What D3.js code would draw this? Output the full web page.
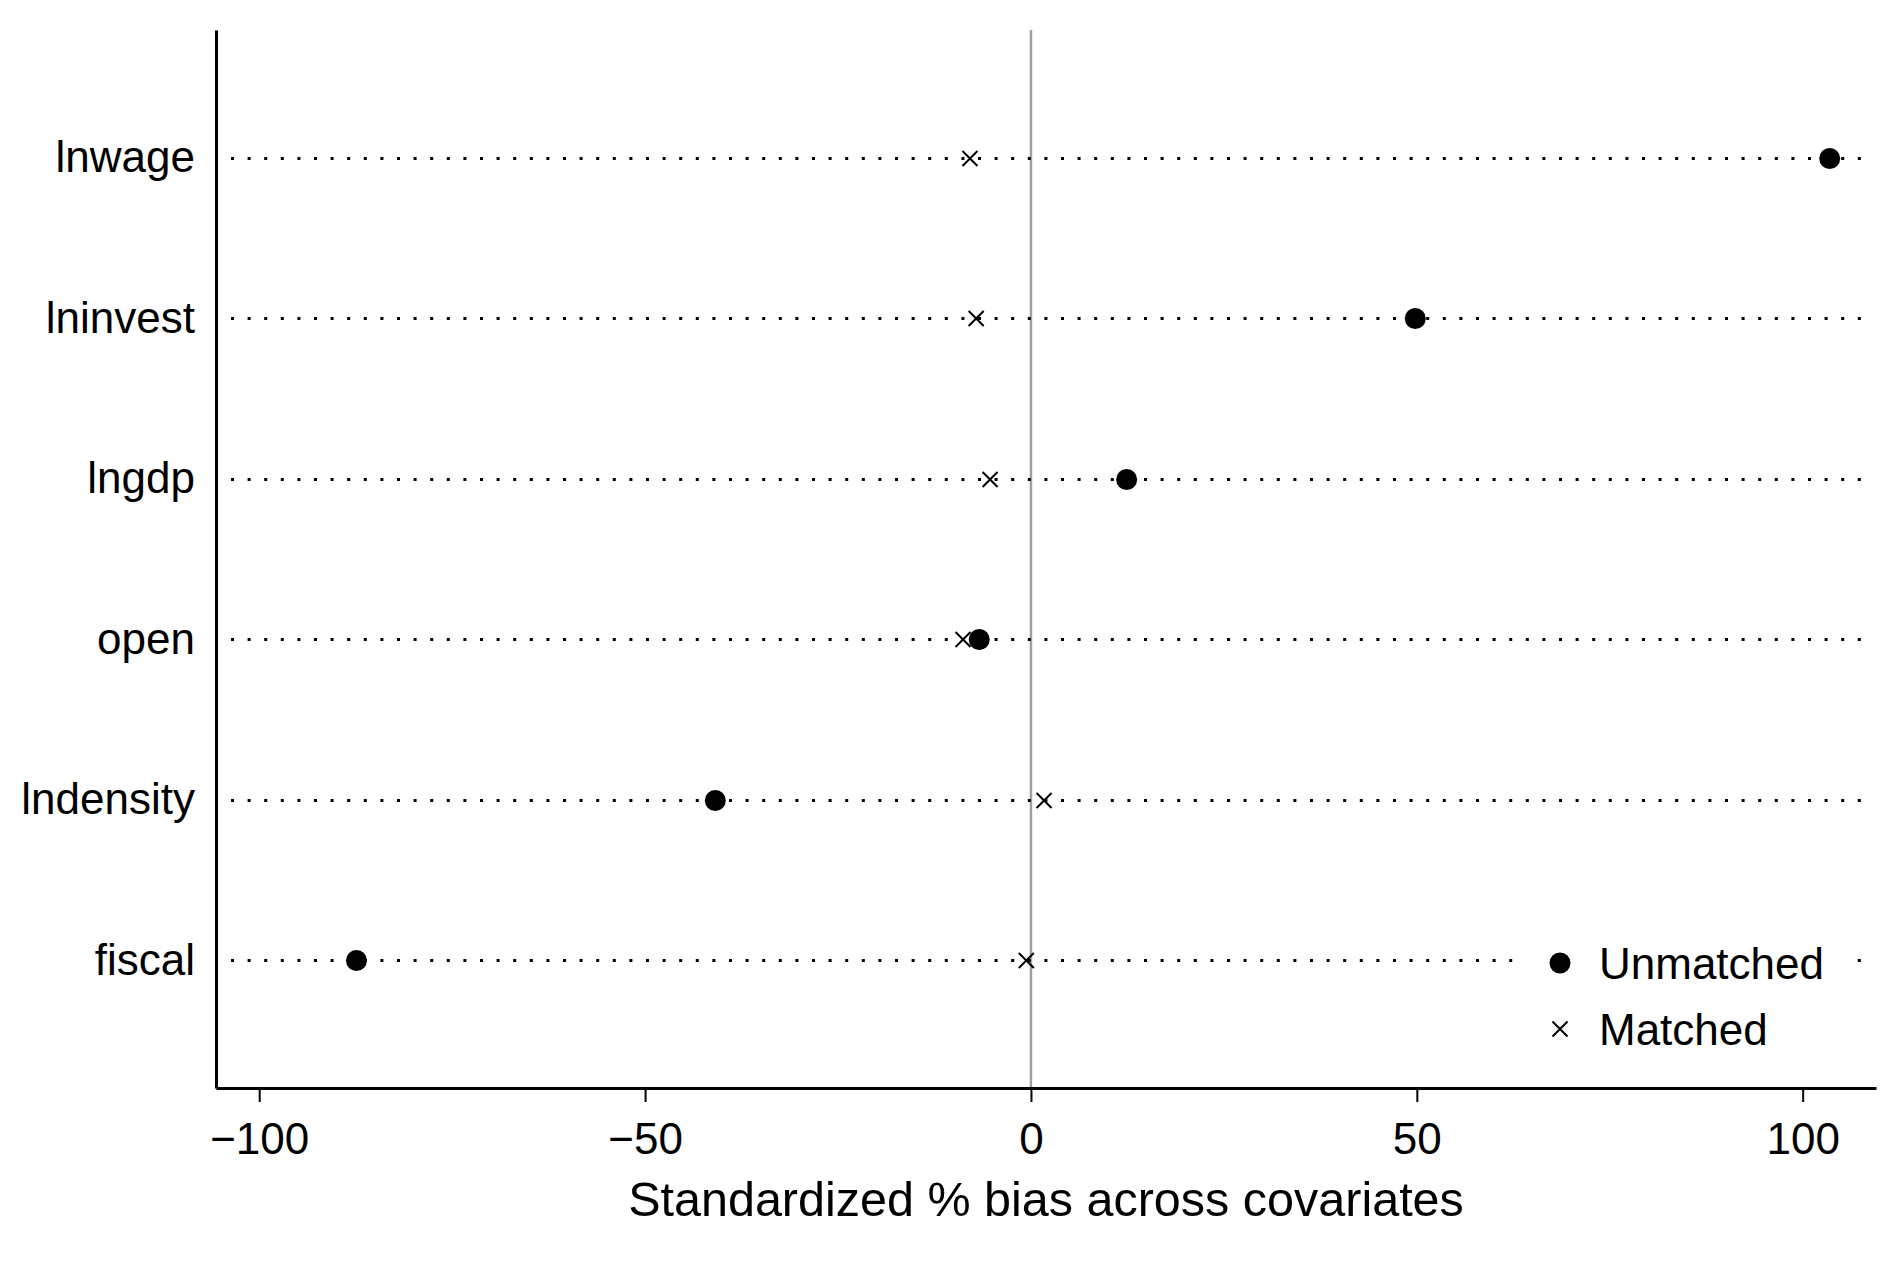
<!DOCTYPE html>
<html>
<head>
<meta charset="utf-8">
<script src="https://cdn.jsdelivr.net/npm/d3@7"></script>
<style>
  body { margin: 0; background: #fff; }
  svg { display: block; font-family: "Liberation Sans", Arial, sans-serif; }
</style>
</head>
<body>
<div id="chart"></div>
<script>
const covariates = ["lnwage", "lninvest", "lngdp", "open", "lndensity", "fiscal"];
const unmatched = [103.5, 49.8, 12.4, -6.7, -40.9, -87.4];
const matched = [-7.9, -7.1, -5.3, -8.8, 1.7, -0.6];
const xTicks = [-100, -50, 0, 50, 100];
const legendLabels = ["Unmatched", "Matched"];

const W = 1902, H = 1266;
const plot = { left: 216, right: 1876, top: 30, bottom: 1088 };

const svg = d3.select("#chart").append("svg")
  .attr("width", W)
  .attr("height", H);

const x = d3.scaleLinear().domain([-105.6, 109.5]).range([plot.left, plot.right]);
const y = d3.scalePoint().domain(covariates).range([plot.top, plot.bottom]).padding(0.794);
const rowY = d => Math.round(y(d)) + 0.5;

// zero reference line
svg.append("line")
  .attr("x1", x(0)).attr("x2", x(0))
  .attr("y1", plot.top).attr("y2", plot.bottom)
  .style("stroke", "#a0a0a0")
  .style("stroke-width", 2.5);

// dotted row lines
svg.selectAll(".row-line")
  .data(covariates)
  .enter().append("line")
  .attr("class", "row-line")
  .attr("x1", plot.left + 15)
  .attr("x2", plot.right - 12)
  .attr("y1", rowY)
  .attr("y2", rowY)
  .style("stroke", "#000")
  .style("stroke-width", 3)
  .style("stroke-dasharray", "3 13.6");

const rows = covariates.map((c, i) => ({ name: c, unmatched: unmatched[i], matched: matched[i] }));

const crossPath = s => `M${-s},${-s}L${s},${s}M${-s},${s}L${s},${-s}`;

svg.selectAll(".matched")
  .data(rows)
  .enter().append("path")
  .attr("class", "matched")
  .attr("transform", d => `translate(${x(d.matched)},${rowY(d.name)})`)
  .attr("d", crossPath(7.5))
  .style("stroke", "#000")
  .style("stroke-width", 2)
  .style("fill", "none");

svg.selectAll(".unmatched")
  .data(rows)
  .enter().append("circle")
  .attr("class", "unmatched")
  .attr("cx", d => x(d.unmatched))
  .attr("cy", d => rowY(d.name))
  .attr("r", 10.5)
  .style("fill", "#000");

// legend
const legend = svg.append("g").attr("class", "legend");
legend.append("rect")
  .attr("x", 1521).attr("y", 935)
  .attr("width", 335).attr("height", 125)
  .style("fill", "#fff");

const legendItems = legend.selectAll(".legend-item")
  .data(legendLabels)
  .enter().append("g")
  .attr("class", "legend-item")
  .attr("transform", (_, i) => `translate(1560, ${963 + i * 66})`);

legendItems.filter((_, i) => i === 0).append("circle")
  .attr("r", 10.5)
  .style("fill", "#000");
legendItems.filter((_, i) => i === 1).append("path")
  .attr("d", crossPath(7.5))
  .style("stroke", "#000")
  .style("stroke-width", 2);

legendItems.append("text")
  .attr("x", 39)
  .attr("dy", "0.36em")
  .style("font-size", "44px")
  .style("fill", "#000")
  .text(d => d);

// axes
const xAxis = svg.append("g")
  .attr("class", "x-axis")
  .attr("transform", `translate(0,${plot.bottom})`)
  .call(d3.axisBottom(x).tickValues(xTicks).tickSize(14).tickSizeOuter(0).tickPadding(21));
xAxis.select(".domain").style("stroke-width", 3);
xAxis.selectAll(".tick line").style("stroke-width", 2);
xAxis.selectAll(".tick text")
  .style("font-size", "44px")
  .style("font-family", "'Liberation Sans', Arial, sans-serif")
  .style("fill", "#000");

const yAxis = svg.append("g")
  .attr("class", "y-axis")
  .attr("transform", `translate(${plot.left},0)`)
  .call(d3.axisLeft(y).tickSize(0).tickSizeOuter(0).tickPadding(21));
yAxis.select(".domain").style("stroke-width", 3);
yAxis.selectAll(".tick text")
  .style("font-size", "44px")
  .style("font-family", "'Liberation Sans', Arial, sans-serif")
  .style("fill", "#000");

svg.append("text")
  .attr("class", "x-label")
  .attr("x", (plot.left + plot.right) / 2)
  .attr("y", 1216)
  .attr("text-anchor", "middle")
  .style("font-size", "48.5px")
  .style("fill", "#000")
  .text("Standardized % bias across covariates");
</script>
</body>
</html>
